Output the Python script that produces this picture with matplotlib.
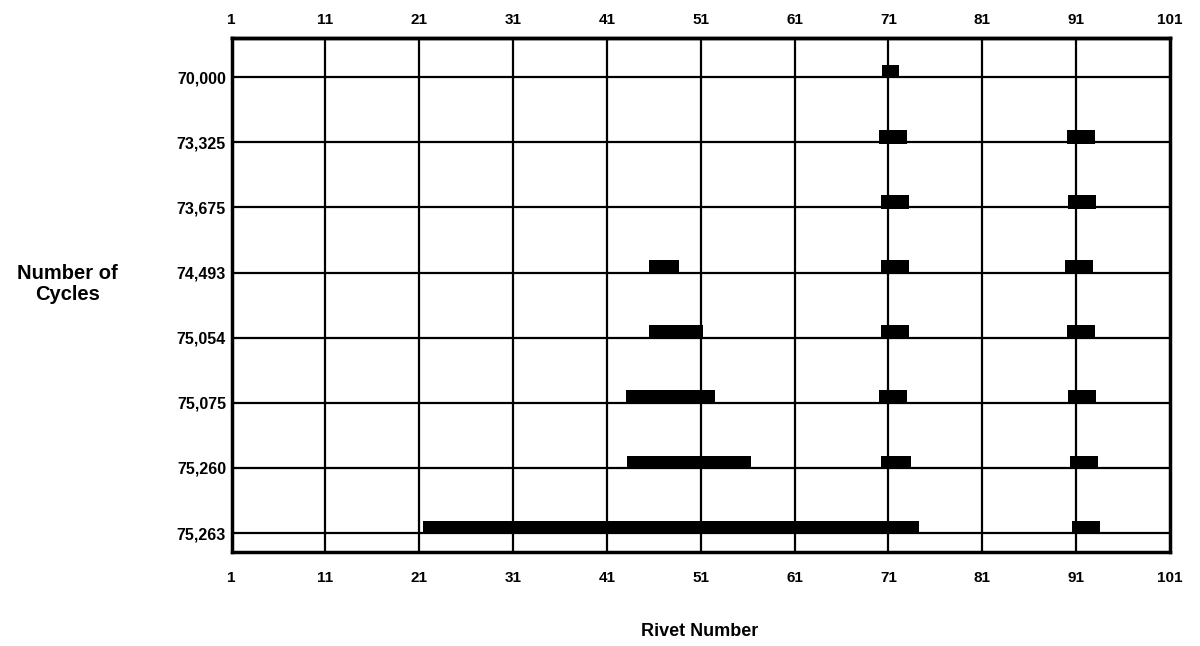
import matplotlib
matplotlib.use("Agg")
import matplotlib.pyplot as plt
import numpy as np

plt.rcParams['font.family'] = ['Liberation Sans', 'DejaVu Sans']

cycles = ["70,000", "73,325", "73,675", "74,493", "75,054", "75,075", "75,260", "75,263"]
rivet_ticks = [1, 11, 21, 31, 41, 51, 61, 71, 81, 91, 101]

# crack segments: (row index, start rivet, end rivet)
bar_row = [0, 1, 1, 2, 2, 3, 3, 3, 4, 4, 4, 5, 5, 5, 6, 6, 6, 7, 7]
bar_start = [70.3, 70.0, 90.0, 70.2, 90.1, 45.5, 70.2, 89.8, 45.5, 70.2, 90.0, 43.0, 70.0, 90.1, 43.1, 70.2, 90.3, 21.4, 90.6]
bar_end = [72.1, 73.0, 93.0, 73.2, 93.1, 48.7, 73.2, 92.8, 51.2, 73.2, 93.0, 52.5, 73.0, 93.1, 56.3, 73.4, 93.3, 74.3, 93.5]

fig = plt.figure(figsize=(12, 6.46), dpi=100)
ax = fig.add_axes([0.193, 0.1455, 0.782, 0.7957])

rows = np.arange(len(cycles))
bar_h = 0.21
ax.barh(np.array(bar_row) - bar_h + 0.02, np.array(bar_end) - np.array(bar_start),
        left=bar_start, height=bar_h, align='edge', color='black', zorder=3)

for r in rows:
    ax.axhline(r, color='black', lw=1.6, zorder=2)
for t in rivet_ticks[1:-1]:
    ax.axvline(t, color='black', lw=1.6, zorder=2)

ax.set_xlim(1, 101)
ax.set_ylim(len(cycles) - 1 + 0.29, -0.6)
ax.set_xticks(rivet_ticks)
ax.set_xticklabels([str(t) for t in rivet_ticks], fontsize=11, fontweight='bold')
ax.set_yticks(rows)
ax.set_yticklabels(cycles, fontsize=11.5, fontweight='bold')
ax.tick_params(axis='x', length=0, pad=14)
ax.tick_params(axis='y', length=0, pad=4)
for s in ax.spines.values():
    s.set_linewidth(2.5)
    s.set_color('black')

top = ax.secondary_xaxis('top')
top.set_xticks(rivet_ticks)
top.set_xticklabels([str(t) for t in rivet_ticks], fontsize=11, fontweight='bold')
top.tick_params(axis='x', length=0, pad=8)
top.spines['top'].set_linewidth(2.5)

fig.text(0.056, 0.56, "Number of\nCycles", ha='center', va='center', fontsize=14.5,
         fontweight='bold', linespacing=1.1)
fig.text(0.583, 0.022, "Rivet Number", ha='center', va='center', fontsize=13, fontweight='bold')

fig.savefig("out.png", dpi=100)
